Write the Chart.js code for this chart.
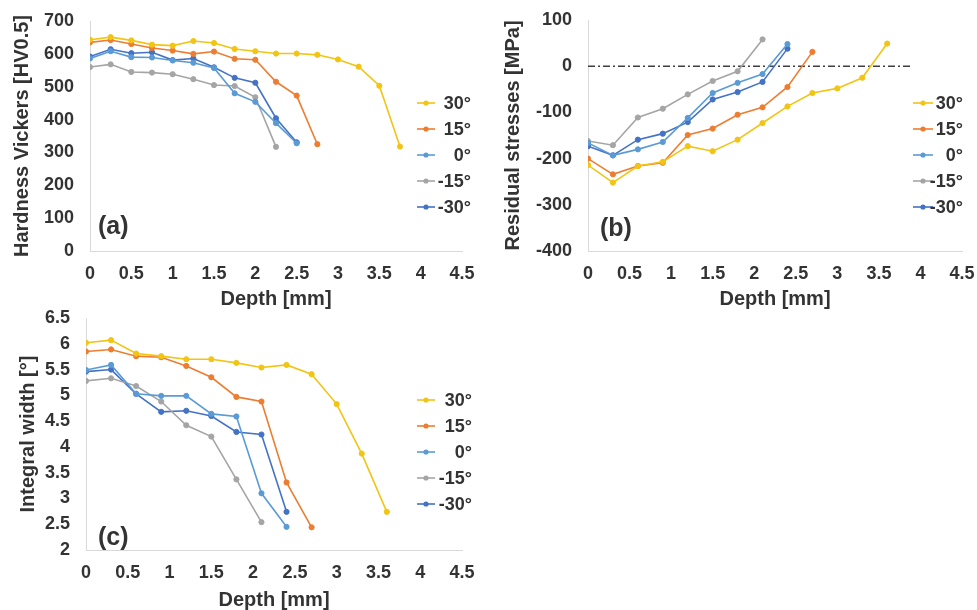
<!DOCTYPE html>
<html>
<head>
<meta charset="utf-8">
<script src="https://cdn.jsdelivr.net/npm/chart.js@4.4.1/dist/chart.umd.min.js"></script>
<style>
body { margin: 0; background: #fff; width: 977px; height: 610px; position: relative; overflow: hidden; }
.box { position: absolute; }
</style>
</head>
<body>
<div class="box" style="left:0;top:0;width:480px;height:310px"><canvas id="chartA"></canvas></div>
<div class="box" style="left:488px;top:0;width:489px;height:310px"><canvas id="chartB"></canvas></div>
<div class="box" style="left:0;top:305px;width:480px;height:305px"><canvas id="chartC"></canvas></div>
<script>
// series names and colours (same for all three panels)
var seriesNames = ['30°', '15°', '0°', '-15°', '-30°'];
var seriesColors = ['#f2c414', '#ed7d31', '#5b9bd5', '#a5a5a5', '#4472c4'];
var xTicks = [0, 4.5, 0.5]; // min, max, step

// (a) hardness
var depthA = [0, 0.25, 0.5, 0.75, 1, 1.25, 1.5, 1.75, 2, 2.25, 2.5, 2.75, 3, 3.25, 3.5, 3.75];
var hv30 = [643, 651, 641, 628, 625, 639, 633, 615, 608, 601, 601, 597, 583, 561, 503, 318];
var hv15 = [635, 642, 630, 618, 610, 600, 607, 585, 582, 515, 473, 325];
var hv0 = [586, 608, 590, 589, 580, 573, 557, 480, 454, 389, 328];
var hvM15 = [560, 568, 545, 543, 538, 523, 505, 502, 468, 317];
var hvM30 = [592, 614, 602, 605, 581, 586, 559, 527, 512, 404, 331];

// (b) residual stresses
var depthBC = [0, 0.3, 0.6, 0.9, 1.2, 1.5, 1.8, 2.1, 2.4, 2.7, 3.0, 3.3, 3.6];
var rs30 = [-214, -252, -216, -207, -173, -184, -159, -123, -87, -58, -48, -25, 49];
var rs15 = [-200, -234, -216, -209, -149, -135, -105, -89, -45, 31];
var rs0 = [-166, -193, -180, -164, -112, -58, -36, -17, 48];
var rsM15 = [-162, -171, -111, -92, -61, -32, -11, 58];
var rsM30 = [-173, -193, -159, -146, -121, -72, -56, -34, 38];
var zeroLineX = [0, 3.88];
var zeroLineY = [0, 0];

// (c) integral width
var iw30 = [6.02, 6.07, 5.81, 5.76, 5.70, 5.70, 5.63, 5.54, 5.59, 5.41, 4.83, 3.87, 2.74];
var iw15 = [5.85, 5.89, 5.76, 5.74, 5.57, 5.35, 4.97, 4.88, 3.31, 2.44];
var iw0 = [5.49, 5.59, 5.03, 4.99, 4.99, 4.64, 4.59, 3.10, 2.45];
var iwM15 = [5.28, 5.33, 5.18, 4.88, 4.42, 4.20, 3.37, 2.54];
var iwM30 = [5.46, 5.50, 5.03, 4.68, 4.70, 4.60, 4.29, 4.24, 2.74];

Chart.defaults.font.family = '"Liberation Sans", Arial, sans-serif';
Chart.defaults.font.weight = 'bold';
Chart.defaults.color = '#333';
Chart.defaults.animation = false;

function pairs(xs, ys) { // build {x,y} points
    return ys.map(function (v, i) { return { x: xs[i], y: v }; });
}

function makeSets(xs, list) {
    return list.map(function (ys, i) {
        return {
            label: seriesNames[i],
            data: pairs(xs, ys),
            borderColor: seriesColors[i],
            backgroundColor: seriesColors[i],
            borderWidth: 1.6,
            pointRadius: 2.6,
            pointBorderWidth: 1,
            tension: 0
        };
    });
}

// legend drawn over the right part of the plot, like the original
var sideLegend = {
    id: 'sideLegend',
    afterDraw: function (chart, args, opts) {
        var ctx = chart.ctx, area = chart.chartArea;
        ctx.save();
        ctx.font = 'bold 18px "Liberation Sans", Arial, sans-serif';
        ctx.textAlign = 'right';
        ctx.textBaseline = 'middle';
        var row = 0;
        chart.data.datasets.forEach(function (ds) {
            if (ds.noLegend) return;
            var y = area.top + opts.top + row * 26;
            var x1 = area.right - opts.lineStart, x2 = area.right - opts.lineEnd;
            ctx.strokeStyle = ds.borderColor;
            ctx.lineWidth = 1.6;
            ctx.beginPath(); ctx.moveTo(x1, y); ctx.lineTo(x2, y); ctx.stroke();
            ctx.fillStyle = ds.borderColor;
            ctx.beginPath(); ctx.arc((x1 + x2) / 2, y, 2.6, 0, Math.PI * 2); ctx.fill();
            ctx.fillStyle = '#333';
            ctx.fillText(ds.label, area.right + opts.textRight, y + 1);
            row++;
        });
        // panel tag (a)/(b)/(c)
        ctx.font = 'bold 25px "Liberation Sans", Arial, sans-serif';
        ctx.textAlign = 'left';
        ctx.fillText(opts.tag, area.left + opts.tagX, area.bottom - opts.tagY);
        ctx.restore();
    }
};

function plain(v) { return String(v); } // 1 not 1.0

function makeChart(id, sets, yMin, yMax, yStep, yTitle, lay) {
    return new Chart(document.getElementById(id), {
        type: 'line',
        data: { datasets: sets },
        plugins: [sideLegend],
        options: {
            responsive: true,
            maintainAspectRatio: false,
            layout: { padding: { top: lay.top, right: lay.right, left: 0, bottom: 0 } },
            plugins: {
                legend: { display: false },
                tooltip: { enabled: false },
                sideLegend: lay.legend
            },
            scales: {
                x: {
                    type: 'linear', min: xTicks[0], max: xTicks[1],
                    ticks: { stepSize: xTicks[2], padding: 12, font: { size: 18 }, autoSkip: false, maxRotation: 0, callback: plain },
                    grid: { display: false, drawTicks: false },
                    border: { display: true, color: '#d9d9d9', width: 1 },
                    title: { display: true, text: 'Depth [mm]', font: { size: 20, lineHeight: 1 }, padding: { top: 0, bottom: lay.xTitlePad } },
                    afterFit: function (s) { s.height = lay.xHeight; s.paddingLeft = 0; s.paddingRight = 0; }
                },
                y: {
                    min: yMin, max: yMax,
                    ticks: { stepSize: yStep, padding: 16, font: { size: 18 }, autoSkip: false, callback: plain },
                    grid: { display: false, drawTicks: false },
                    border: { display: true, color: '#d9d9d9', width: 1 },
                    title: { display: true, text: yTitle, font: { size: 20, lineHeight: 1 }, padding: { top: lay.yTitlePad, bottom: 0 } },
                    afterFit: function (s) { s.width = lay.yWidth; s.paddingTop = 0; s.paddingBottom = 0; }
                }
            }
        }
    });
}

makeChart('chartA', makeSets(depthA, [hv30, hv15, hv0, hvM15, hvM30]), 0, 700, 100, 'Hardness Vickers [HV0.5]', {
    top: 21, right: 18, yWidth: 90, xHeight: 59, yTitlePad: 12, xTitlePad: 1,
    legend: { top: 82, lineStart: 45, lineEnd: 27, textRight: 9, tag: '(a)', tagX: 8, tagY: 24 }
});

var setsB = makeSets(depthBC, [rs30, rs15, rs0, rsM15, rsM30]);
setsB.push({ // dash-dot zero reference line
    label: 'zero', noLegend: true, data: pairs(zeroLineX, zeroLineY),
    borderColor: '#3f3f3f', borderWidth: 1.5, borderDash: [7, 3, 2, 3], pointRadius: 0
});
makeChart('chartB', setsB, -400, 100, 100, 'Residual stresses [MPa]', {
    top: 20, right: 15, yWidth: 100, xHeight: 59, yTitlePad: 15, xTitlePad: 1,
    legend: { top: 83, lineStart: 49, lineEnd: 29, textRight: 1, tag: '(b)', tagX: 12, tagY: 22 }
});

makeChart('chartC', makeSets(depthBC, [iw30, iw15, iw0, iwM15, iwM30]), 2, 6.5, 0.5, 'Integral width [°]', {
    top: 13, right: 18, yWidth: 86, xHeight: 60, yTitlePad: 18, xTitlePad: 0,
    legend: { top: 82, lineStart: 45, lineEnd: 27, textRight: 10, tag: '(c)', tagX: 12, tagY: 12 }
});
</script>
</body>
</html>
